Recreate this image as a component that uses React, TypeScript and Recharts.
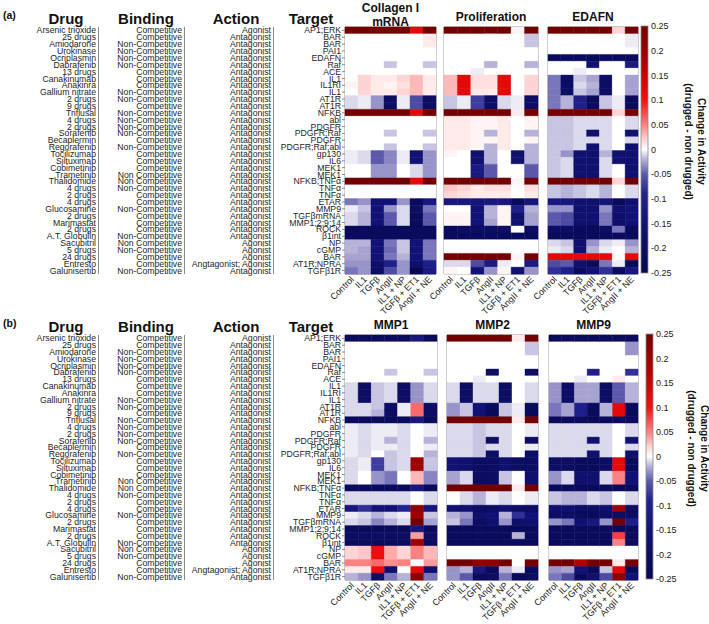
import React from 'react'
import { BarChart, Bar, XAxis, YAxis, Cell, ReferenceArea } from 'recharts'

const FONT = '"Liberation Sans", Arial, Helvetica, sans-serif'

const drugs = ['Arsenic trioxide', '25 drugs', 'Amiodarone', 'Urokinase', 'Ocriplasmin', 'Dabrafenib', '13 drugs', 'Canakinumab', 'Anakinra', 'Gallium nitrate', '2 drugs', '9 drugs', 'Triflusal', '4 drugs', '2 drugs', 'Sorafenib', 'Becaplermin', 'Regorafenib', 'Tocilizumab', 'Siltuximab', 'Cobimetinib', 'Trametinib', 'Thalidomide', '4 drugs', '2 drugs', '4 drugs', 'Glucosamine', '2 drugs', 'Marimastat', '2 drugs', 'A.T. Globulin', 'Sacubitril', '5 drugs', '24 drugs', 'Entresto', 'Galunisertib']

const C = 'Competitive'
const N = 'Non-Competitive'
const NS = 'Non Competitive'
const binding = [C, C, N, N, N, N, C, C, C, N, N, C, N, N, N, N, C, N, C, C, C, NS, NS, N, C, C, N, C, C, C, N, NS, N, C, C, N]

const AG = 'Agonist'
const AN = 'Antagonist'
const action = [AG, AN, AN, AN, AN, AN, AN, AN, AN, AN, AN, AN, AN, AN, AN, AN, AN, AN, AN, AN, AN, AN, AN, AN, AN, AN, AN, AN, AN, AN, AN, AG, AG, AG, 'Angtagonist; Agonist', AN]

const targets = ['AP1;ERK', 'BAR', 'BAR', 'PAI1', 'EDAFN', 'Raf', 'ACE', 'IL1', 'IL1RI', 'IL1', 'AT1R', 'AT1R', 'NFKB', 'abl', 'PDGFR', 'PDGFR;Raf', 'PDGFR', 'PDGFR;Raf;abl', 'gp130', 'IL6', 'MEK1', 'MEK1', 'NFKB;TNFα', 'TNFα', 'TNFα', 'ETAR', 'MMP9', 'TGFβmRNA', 'MMP1;2;9;14', 'ROCK', 'β1int', 'NP', 'cGMP', 'BAR', 'AT1R;NPRA', 'TGFβ1R']

const conditions = ['Control', 'IL1', 'TGFβ', 'AngII', 'IL1 + NP', 'TGFβ + ET1', 'AngII + NE']

const cbarTicks = [0.25, 0.2, 0.15, 0.1, 0.05, 0, -0.05, -0.1, -0.15, -0.2, -0.25]

// panel (a)
const collagenVals = [
  [0.25, 0.25, 0.25, 0.25, 0.25, 0.12, 0.25],
  [0, 0, 0, 0, 0, 0, 0.01],
  [0, 0, 0, 0, 0, 0, 0.01],
  [0, 0, 0, 0, 0, 0, 0],
  [0, 0, 0, 0, 0, 0, 0],
  [0, 0, 0, -0.015, 0, 0, -0.015],
  [0, 0, 0, 0, 0, 0, 0],
  [0, 0.02, 0.01, 0.01, 0.02, 0.03, 0.01],
  [0.005, 0.02, 0.01, 0.005, 0.015, 0.03, 0.01],
  [0, 0.02, 0.01, 0.01, 0.02, 0.03, 0.01],
  [-0.01, -0.005, -0.03, -0.2, -0.005, -0.06, -0.2],
  [-0.01, -0.005, -0.03, -0.2, -0.005, -0.06, -0.2],
  [0.25, 0.25, 0.25, 0.25, 0.25, 0.12, 0.25],
  [0, 0, 0, 0, 0, 0, 0],
  [0, 0, 0, 0, 0, 0, 0],
  [0, 0, 0, -0.015, 0, 0, -0.015],
  [0, 0, 0, 0, 0, 0, 0],
  [0, 0, 0, -0.015, 0, 0, -0.015],
  [-0.005, -0.01, -0.05, -0.035, -0.005, -0.15, -0.03],
  [-0.005, -0.01, -0.05, -0.035, -0.005, -0.15, -0.03],
  [0, 0, -0.03, -0.03, 0, -0.01, -0.03],
  [0, 0, -0.03, -0.03, 0, -0.01, -0.03],
  [0.25, 0.25, 0.25, 0.25, 0.25, 0.12, 0.25],
  [0, 0, 0, 0, 0, 0, 0],
  [0, 0, 0, 0, 0, 0, 0],
  [-0.04, -0.03, -0.15, -0.15, -0.03, -0.22, -0.13],
  [-0.005, -0.015, -0.15, -0.03, -0.01, -0.2, -0.04],
  [-0.01, -0.02, -0.15, -0.05, -0.01, -0.22, -0.05],
  [-0.01, -0.02, -0.15, -0.05, -0.01, -0.22, -0.05],
  [-0.22, -0.22, -0.22, -0.22, -0.22, -0.22, -0.22],
  [-0.22, -0.22, -0.22, -0.22, -0.22, -0.22, -0.22],
  [-0.02, -0.02, -0.15, -0.04, -0.015, -0.15, -0.04],
  [-0.02, -0.025, -0.15, -0.045, -0.015, -0.15, -0.04],
  [-0.025, -0.025, -0.15, -0.04, -0.02, -0.15, -0.04],
  [-0.03, -0.03, -0.18, -0.1, -0.03, -0.17, -0.1],
  [-0.04, -0.03, -0.2, -0.06, -0.03, -0.25, -0.12],
]

const prolifVals = [
  [0.25, 0.25, 0.25, 0.25, 0.25, 0.005, 0.25],
  [0, 0, 0, 0, 0, 0, -0.015],
  [0, 0, 0, 0, 0, 0, -0.015],
  [0, 0, 0, 0, 0, 0, 0],
  [0, 0, 0, 0, 0, 0, 0],
  [0, 0, 0, -0.02, 0, 0, -0.02],
  [0, 0, -0.005, 0, 0, 0, 0],
  [0.03, 0.12, 0.015, 0.015, 0.12, 0, 0.02],
  [0.03, 0.12, 0.015, 0.015, 0.12, 0, 0.02],
  [0.03, 0.12, 0.01, 0.01, 0.12, 0, 0.02],
  [-0.015, -0.005, -0.07, -0.2, -0.01, -0.005, -0.2],
  [-0.015, -0.005, -0.07, -0.2, -0.01, -0.005, -0.2],
  [0.25, 0.25, 0.25, 0.25, 0.25, 0.01, 0.25],
  [0.01, 0.01, 0.005, 0.005, 0.01, 0, 0.005],
  [0.01, 0.01, 0.005, 0.005, 0.01, 0, 0.005],
  [0.01, 0.01, 0.005, -0.02, 0.01, 0, -0.02],
  [0.01, 0.01, 0.005, 0.005, 0.01, 0, 0.005],
  [0.01, 0.01, 0.005, -0.02, 0.01, 0, -0.02],
  [0.005, 0, -0.17, -0.02, 0, -0.17, -0.02],
  [0, 0, -0.17, -0.02, 0, -0.17, -0.02],
  [0, 0, -0.12, -0.05, 0, 0, -0.05],
  [0, 0, -0.12, -0.05, 0, 0, -0.05],
  [0.25, 0.25, 0.25, 0.25, 0.25, 0.005, 0.25],
  [0.025, 0.02, 0.01, 0.015, 0.015, 0, 0.015],
  [0.02, 0.015, 0.01, 0.01, 0.01, 0, 0.01],
  [-0.13, -0.13, -0.14, -0.13, -0.13, -0.22, -0.14],
  [0, 0, -0.15, -0.02, 0.005, -0.1, -0.02],
  [0.005, 0.005, -0.15, -0.02, 0.005, -0.17, -0.025],
  [0.005, 0.005, -0.15, -0.025, 0.005, -0.17, -0.025],
  [-0.22, -0.2, -0.2, -0.2, -0.2, 0, -0.2],
  [-0.22, -0.22, -0.22, -0.22, -0.22, -0.22, -0.22],
  [0, 0, 0, 0, 0, 0, 0],
  [0, 0, 0, 0, 0, 0, 0],
  [0.25, 0.25, 0.25, 0.25, 0.25, 0.005, 0.25],
  [-0.01, -0.01, -0.06, -0.12, -0.005, 0, -0.12],
  [0.005, 0, -0.15, -0.03, 0.005, -0.17, -0.03],
]

const edafnVals = [
  [0.25, 0.25, 0.25, 0.25, 0.25, 0.02, 0.25],
  [0, 0, 0, 0, 0, 0, -0.005],
  [0, 0, 0, 0, 0, 0, -0.005],
  [0, 0, 0, 0, 0, 0, 0],
  [-0.22, -0.22, -0.22, -0.22, -0.22, -0.22, -0.22],
  [0, 0, 0, -0.15, 0, 0, -0.12],
  [0, 0, -0.005, 0, 0, 0, 0],
  [-0.04, -0.2, -0.015, -0.025, -0.2, 0, -0.025],
  [-0.04, -0.2, -0.01, -0.02, -0.2, 0, -0.025],
  [-0.04, -0.2, -0.015, -0.025, -0.2, 0, -0.025],
  [-0.04, -0.02, -0.1, -0.22, -0.015, -0.005, -0.22],
  [-0.04, -0.02, -0.1, -0.22, -0.015, -0.005, -0.22],
  [0.25, 0.25, 0.25, 0.25, 0.25, 0.02, 0.25],
  [-0.015, -0.015, -0.01, -0.01, -0.01, 0, -0.01],
  [-0.015, -0.015, -0.01, -0.01, -0.01, 0, -0.01],
  [-0.015, -0.015, -0.01, -0.17, -0.01, 0, -0.17],
  [-0.015, -0.015, -0.01, -0.01, -0.01, 0, -0.01],
  [-0.015, -0.015, -0.01, -0.17, -0.01, 0, -0.17],
  [-0.015, -0.03, -0.17, -0.17, -0.02, -0.17, -0.17],
  [-0.015, -0.01, -0.17, -0.17, -0.01, -0.17, -0.17],
  [-0.015, -0.01, -0.17, -0.17, -0.01, 0, -0.17],
  [-0.015, -0.01, -0.17, -0.17, -0.01, 0, -0.17],
  [0.25, 0.25, 0.25, 0.25, 0.25, 0.02, 0.25],
  [-0.015, -0.02, -0.015, -0.01, -0.02, 0, -0.01],
  [-0.015, -0.02, -0.015, -0.01, -0.02, 0, -0.01],
  [-0.13, -0.13, -0.17, -0.17, -0.14, -0.22, -0.17],
  [-0.03, -0.03, -0.17, -0.17, -0.03, -0.16, -0.15],
  [-0.05, -0.06, -0.17, -0.17, -0.04, -0.18, -0.15],
  [-0.05, -0.06, -0.17, -0.17, -0.04, -0.18, -0.15],
  [-0.2, -0.2, -0.22, -0.22, -0.2, -0.04, -0.22],
  [-0.22, -0.22, -0.22, -0.22, -0.22, -0.22, -0.22],
  [-0.01, -0.015, -0.17, -0.03, -0.01, -0.005, -0.03],
  [-0.005, -0.01, -0.17, -0.02, -0.005, 0, -0.02],
  [0.12, 0.12, 0.12, 0.12, 0.12, 0, 0.12],
  [-0.06, -0.05, -0.17, -0.22, -0.04, -0.005, -0.22],
  [-0.08, -0.1, -0.22, -0.15, -0.08, -0.22, -0.13],
]

// panel (b)
const mmp1Vals = [
  [-0.22, -0.22, -0.22, -0.22, -0.22, -0.13, -0.22],
  [0, 0, 0, 0, 0, 0, 0],
  [0, 0, 0, 0, 0, 0, 0],
  [0, 0, 0, 0, 0, 0, 0],
  [0, 0, 0, 0, 0, 0, 0],
  [0, 0, 0, -0.015, 0, 0, -0.015],
  [0, 0, 0, 0, 0, 0, 0],
  [-0.01, -0.2, -0.015, -0.01, -0.2, -0.03, -0.01],
  [-0.01, -0.2, -0.015, -0.01, -0.2, -0.03, -0.01],
  [-0.01, -0.2, -0.015, -0.01, -0.2, -0.03, -0.01],
  [-0.01, -0.01, -0.015, -0.2, -0.005, 0.06, -0.2],
  [-0.01, -0.01, -0.02, -0.2, -0.005, 0.06, -0.2],
  [-0.22, -0.22, -0.22, -0.22, -0.22, -0.13, -0.22],
  [-0.005, -0.01, -0.005, -0.005, -0.01, 0, -0.005],
  [-0.005, -0.01, -0.005, -0.005, -0.01, 0, -0.005],
  [-0.005, -0.01, -0.005, -0.02, -0.01, 0, -0.02],
  [-0.005, -0.01, -0.005, -0.005, -0.01, 0, -0.005],
  [-0.005, -0.01, 0, -0.015, -0.01, 0, -0.02],
  [-0.01, -0.005, -0.07, -0.015, -0.01, 0.2, -0.015],
  [-0.01, -0.005, -0.07, -0.015, -0.01, 0.2, -0.015],
  [-0.01, 0, -0.03, -0.04, 0, 0.03, -0.035],
  [-0.01, 0, -0.03, -0.04, 0, 0.03, -0.035],
  [-0.22, -0.22, -0.22, -0.22, -0.22, -0.13, -0.22],
  [-0.01, -0.01, -0.01, -0.01, -0.01, 0, -0.01],
  [-0.01, -0.01, -0.01, -0.01, -0.01, 0, -0.01],
  [-0.13, -0.08, -0.15, -0.15, -0.09, 0.22, -0.14],
  [-0.005, -0.01, -0.02, -0.01, -0.005, 0.2, -0.015],
  [-0.01, -0.015, -0.035, -0.02, -0.01, 0.25, -0.025],
  [-0.22, -0.22, -0.22, -0.22, -0.22, -0.13, -0.22],
  [-0.2, -0.2, -0.2, -0.2, -0.2, 0.04, -0.2],
  [-0.22, -0.22, -0.22, -0.22, -0.22, 0.2, -0.22],
  [0.02, 0.025, 0.11, 0.035, 0.02, 0.05, 0.03],
  [0.02, 0.025, 0.11, 0.035, 0.02, 0.05, 0.03],
  [0.05, 0.05, 0.06, 0.045, 0.05, 0, 0.04],
  [0.01, 0.01, 0.11, -0.17, 0, 0.12, -0.17],
  [-0.02, -0.03, -0.2, -0.04, -0.02, 0.22, -0.04],
]

const mmp2Vals = [
  [0.25, 0.25, 0.25, 0.25, 0.25, 0.01, 0.25],
  [0, 0, 0, 0, 0, 0, -0.015],
  [0, 0, 0, 0, 0, 0, -0.015],
  [0, 0, 0, 0, 0, 0, 0],
  [0, 0, 0, 0, 0, 0, 0],
  [0, 0, 0, -0.2, 0, 0, -0.2],
  [0, 0, -0.005, 0, 0, 0, 0],
  [-0.01, -0.2, -0.01, -0.01, -0.2, 0, -0.01],
  [-0.01, -0.2, -0.01, -0.01, -0.2, 0, -0.01],
  [-0.01, -0.2, -0.01, -0.01, -0.2, 0, -0.01],
  [-0.03, -0.015, -0.15, -0.22, -0.015, -0.005, -0.22],
  [-0.03, -0.015, -0.15, -0.22, -0.015, -0.005, -0.22],
  [0.25, 0.25, 0.25, 0.25, 0.25, 0.01, 0.25],
  [-0.01, -0.01, -0.015, -0.01, -0.01, 0, -0.005],
  [-0.01, -0.01, -0.015, -0.01, -0.01, 0, -0.005],
  [-0.01, -0.01, -0.015, -0.2, -0.01, 0, -0.2],
  [-0.01, -0.01, -0.015, -0.01, -0.01, 0, -0.005],
  [-0.01, -0.01, -0.015, -0.2, -0.01, 0, -0.2],
  [-0.15, -0.17, -0.2, -0.2, -0.17, -0.2, -0.2],
  [-0.15, -0.17, -0.2, -0.2, -0.17, -0.2, -0.2],
  [-0.025, -0.01, -0.2, -0.2, -0.015, 0, -0.17],
  [-0.025, -0.01, -0.2, -0.2, -0.015, 0, -0.17],
  [0.25, 0.25, 0.25, 0.25, 0.25, 0.01, 0.25],
  [0, -0.01, -0.02, -0.005, -0.01, 0, -0.005],
  [0, -0.01, -0.02, -0.005, -0.01, 0, -0.005],
  [-0.17, -0.17, -0.2, -0.2, -0.17, -0.2, -0.2],
  [-0.02, -0.03, -0.17, -0.15, -0.02, -0.08, -0.15],
  [-0.015, -0.04, -0.2, -0.17, -0.03, -0.18, -0.17],
  [-0.22, -0.22, -0.22, -0.22, -0.22, -0.22, -0.22],
  [-0.22, -0.22, -0.22, -0.22, -0.22, -0.02, -0.22],
  [-0.22, -0.22, -0.22, -0.22, -0.22, -0.22, -0.22],
  [0, 0, 0, 0, 0, 0, 0],
  [0, 0, 0, 0, 0, 0, 0],
  [0.25, 0.25, 0.22, 0.22, 0.25, 0, 0.25],
  [-0.03, -0.02, -0.13, -0.22, -0.02, -0.005, -0.22],
  [-0.03, -0.05, -0.22, -0.2, -0.04, -0.22, -0.2],
]

const mmp9Vals = [
  [-0.22, -0.22, -0.22, -0.22, -0.22, -0.22, -0.22],
  [0, 0, 0, 0, 0, 0, -0.03],
  [0, 0, 0, 0, 0, 0, -0.03],
  [0, 0, 0, 0, 0, 0, 0],
  [0, 0, 0, 0, 0, 0, 0],
  [0, 0, 0, -0.1, 0, 0, -0.08],
  [0, 0, -0.005, 0, 0, 0.01, 0],
  [-0.03, -0.2, -0.025, -0.025, -0.2, -0.05, -0.02],
  [-0.03, -0.2, -0.025, -0.025, -0.2, -0.05, -0.02],
  [-0.03, -0.2, -0.025, -0.025, -0.2, -0.05, -0.02],
  [-0.04, -0.025, -0.1, -0.22, -0.02, 0.12, -0.22],
  [-0.04, -0.025, -0.1, -0.22, -0.02, 0.12, -0.22],
  [-0.22, -0.22, -0.22, -0.22, -0.22, -0.22, -0.22],
  [-0.01, -0.01, -0.01, -0.01, -0.01, 0, -0.01],
  [-0.01, -0.01, -0.01, -0.01, -0.01, 0, -0.01],
  [-0.01, -0.01, -0.01, -0.17, -0.01, 0, -0.17],
  [-0.01, -0.01, -0.01, -0.01, -0.01, 0, -0.01],
  [-0.01, -0.01, -0.01, -0.17, -0.01, 0, -0.17],
  [-0.2, -0.2, -0.22, -0.22, -0.2, 0.12, -0.22],
  [-0.2, -0.2, -0.22, -0.22, -0.2, 0.12, -0.22],
  [-0.03, -0.01, -0.17, -0.17, -0.01, 0.05, -0.15],
  [-0.03, -0.01, -0.17, -0.17, -0.01, 0.05, -0.15],
  [-0.22, -0.22, -0.22, -0.22, -0.22, -0.22, -0.22],
  [-0.015, -0.02, -0.02, -0.01, -0.015, 0, -0.01],
  [-0.015, -0.02, -0.02, -0.01, -0.015, 0, -0.01],
  [-0.17, -0.17, -0.2, -0.2, -0.17, 0.2, -0.2],
  [-0.2, -0.2, -0.22, -0.22, -0.2, -0.2, -0.2],
  [-0.03, -0.04, -0.17, -0.13, -0.03, 0.25, -0.1],
  [-0.22, -0.22, -0.22, -0.22, -0.22, -0.22, -0.22],
  [-0.22, -0.22, -0.22, -0.22, -0.22, 0.08, -0.22],
  [-0.22, -0.22, -0.22, -0.22, -0.22, 0.05, -0.22],
  [0, 0, 0, 0, 0, 0, 0],
  [0, 0, 0, 0, 0, 0, 0],
  [0.25, 0.25, 0.18, 0.25, 0.25, 0.01, 0.25],
  [-0.03, -0.025, -0.15, -0.22, -0.015, 0.12, -0.22],
  [-0.04, -0.06, -0.22, -0.17, -0.06, 0.22, -0.15],
]

// blue - white - red colormap
const cmap: [number, number[]][] = [
  [-0.25, [8, 8, 82]],
  [-0.15, [18, 18, 118]],
  [-0.09, [34, 34, 142]],
  [-0.05, [92, 88, 172]],
  [-0.02, [182, 178, 216]],
  [0, [255, 255, 255]],
  [0.02, [255, 212, 212]],
  [0.05, [250, 130, 130]],
  [0.1, [245, 15, 15]],
  [0.16, [195, 0, 0]],
  [0.25, [115, 0, 0]],
]

function colorOf(v: number) {
  const x = Math.max(-0.25, Math.min(0.25, v))
  for (let i = 1; i < cmap.length; i++) {
    const [v1, c1] = cmap[i]
    const [v0, c0] = cmap[i - 1]
    if (x <= v1) {
      const t = (x - v0) / (v1 - v0)
      const c = c0.map((a, k) => Math.round(a + (c1[k] - a) * t))
      return `rgb(${c[0]},${c[1]},${c[2]})`
    }
  }
  return 'rgb(115,0,0)'
}

const TEXT_RIGHT = { drug: 96, binding: 182, action: 271, target: 341 }
const SEP_X = [98.5, 184.5, 273.5]

const panels = [
  {
    label: '(a)', divTop: 0, top: 27, height: 247, headY: 24, titleY: 20.5, cbarX: 641, legendX: 698,
    maps: [
      { title: ['Collagen I', 'mRNA'], vals: collagenVals, x0: 345, x1: 436 },
      { title: ['Proliferation'], vals: prolifVals, x0: 444, x1: 538 },
      { title: ['EDAFN'], vals: edafnVals, x0: 548, x1: 638 },
    ],
  },
  {
    label: '(b)', divTop: 300, top: 335, height: 245, headY: 332, titleY: 328.5, cbarX: 646, legendX: 701,
    maps: [
      { title: ['MMP1'], vals: mmp1Vals, x0: 345, x1: 437 },
      { title: ['MMP2'], vals: mmp2Vals, x0: 447, x1: 538 },
      { title: ['MMP9'], vals: mmp9Vals, x0: 549, x1: 638 },
    ],
  },
]

const RowTick = (props: any) => {
  const { y, payload } = props
  const i = payload.value
  return (
    <g fontFamily={FONT} fontSize={8.7} fill="#1e1e1e">
      <text x={TEXT_RIGHT.drug} y={y} dy="0.35em" textAnchor="end">{drugs[i]}</text>
      <text x={TEXT_RIGHT.binding} y={y} dy="0.35em" textAnchor="end">{binding[i]}</text>
      <text x={TEXT_RIGHT.action} y={y} dy="0.35em" textAnchor="end">{action[i]}</text>
      <text x={TEXT_RIGHT.target} y={y} dy="0.35em" textAnchor="end">{targets[i]}</text>
    </g>
  )
}

const ColTick = (props: any) => {
  const { x, y, payload } = props
  const label = conditions[Math.floor(payload.value)]
  const ax = x + 3
  const ay = y + 2
  return (
    <text x={ax} y={ay} transform={`rotate(-45 ${ax} ${ay})`} textAnchor="end" fontSize={9} fontFamily={FONT} fill="#1e1e1e">
      {label}
    </text>
  )
}

const rows = targets.map((_, i) => {
  const d: Record<string, number> = { row: i }
  conditions.forEach((__, j) => { d['c' + j] = 1 })
  return d
})

const colTicks = conditions.map((_, j) => j + 0.5)

function Heatmap({ vals, x0, x1, divTop, top, height, withText }: any) {
  const xLabelH = 50
  const padL = withText ? 0 : 40
  const yW = withText ? x0 : 0
  const left = withText ? 0 : x0 - padL
  const width = x1 - x0 + yW + padL + 4
  return (
    <div style={{ position: 'absolute', left, top: divTop }}>
      <BarChart
        layout="vertical"
        width={width}
        height={top - divTop + height + xLabelH}
        data={rows}
        margin={{ top: top - divTop, left: padL, right: 4, bottom: 0 }}
        barCategoryGap={0}
        barGap={0}
      >
        <XAxis
          type="number"
          domain={[0, conditions.length]}
          ticks={colTicks}
          interval={0}
          tick={ColTick}
          tickLine={false}
          axisLine={false}
          tickSize={0}
          tickMargin={4}
          height={xLabelH}
        />
        <YAxis
          type="category"
          dataKey="row"
          width={yW}
          hide={!withText}
          interval={0}
          tick={RowTick}
          tickLine={{ stroke: '#8a8a8a' }}
          tickSize={3}
          axisLine={false}
        />
        {conditions.map((_, j) => (
          <Bar key={j} dataKey={'c' + j} stackId="s" isAnimationActive={false}>
            {vals.map((r: number[], i: number) => (
              <Cell key={i} fill={colorOf(r[j])} stroke={colorOf(r[j])} strokeWidth={0.4} />
            ))}
          </Bar>
        ))}
        <ReferenceArea x1={0} x2={conditions.length} fill="none" stroke="#8a8a8a" strokeWidth={1} ifOverflow="visible" />
      </BarChart>
    </div>
  )
}

function Overlay() {
  const nStops = 50
  const stops = Array.from({ length: nStops + 1 }, (_, k) => {
    const v = 0.25 - (0.5 * k) / nStops
    return <stop key={k} offset={k / nStops} stopColor={colorOf(v)} />
  })
  return (
    <svg width={709} height={624} style={{ position: 'absolute', left: 0, top: 0, pointerEvents: 'none' }} fontFamily={FONT}>
      <defs>
        <linearGradient id="cbar" x1="0" y1="0" x2="0" y2="1">{stops}</linearGradient>
      </defs>
      {panels.map((p) => {
        const cTop = p.top - 1
        const cBot = p.top + p.height - 1
        const cy = (t: number) => cTop + ((0.25 - t) / 0.5) * (cBot - cTop)
        const mid = (cTop + cBot) / 2 - 8
        return (
          <g key={p.label}>
            <text x={3} y={p.headY - 5} fontSize={10.5} fontWeight="bold" fill="#111">{p.label}</text>
            <g fontSize={15} fontWeight="bold" fill="#111" textAnchor="middle">
              <text x={66} y={p.headY}>Drug</text>
              <text x={146} y={p.headY}>Binding</text>
              <text x={236} y={p.headY}>Action</text>
              <text x={311} y={p.headY}>Target</text>
            </g>
            {SEP_X.map((sx) => (
              <line key={sx} x1={sx} x2={sx} y1={p.top} y2={p.top + p.height} stroke="#8a8a8a" strokeWidth={1} />
            ))}
            {p.maps.map((m) => {
              const cx = (m.x0 + m.x1) / 2
              return m.title.length === 2 ? (
                <g key={m.title[0]} fontSize={12} fontWeight="bold" fill="#111" textAnchor="middle">
                  <text x={cx} y={p.titleY - 8.5}>{m.title[0]}</text>
                  <text x={cx} y={p.titleY + 5}>{m.title[1]}</text>
                </g>
              ) : (
                <text key={m.title[0]} x={cx} y={p.titleY} fontSize={12} fontWeight="bold" fill="#111" textAnchor="middle">{m.title[0]}</text>
              )
            })}
            <rect x={p.cbarX} y={cTop} width={7} height={cBot - cTop} fill="url(#cbar)" stroke="#8a8a8a" strokeWidth={0.8} />
            {cbarTicks.map((t) => (
              <text key={t} x={p.cbarX + 10} y={cy(t)} dy="0.35em" fontSize={9} fill="#222">{String(t)}</text>
            ))}
            <g fontSize={10} fontWeight="bold" fill="#111" textAnchor="middle">
              <text transform={`translate(${p.legendX} ${mid}) rotate(90)`}>Change in Activity</text>
              <text transform={`translate(${p.legendX - 13} ${mid}) rotate(90)`}>(drugged - non drugged)</text>
            </g>
          </g>
        )
      })}
    </svg>
  )
}

export default function App() {
  return (
    <div style={{ position: 'absolute', left: 0, top: 0, width: 709, height: 624, background: '#fff', fontFamily: FONT, overflow: 'hidden' }}>
      {panels.map((p) =>
        p.maps.map((m, k) => (
          <Heatmap key={p.label + k} vals={m.vals} x0={m.x0} x1={m.x1} divTop={p.divTop} top={p.top} height={p.height} withText={k === 0} />
        ))
      )}
      <Overlay />
    </div>
  )
}
